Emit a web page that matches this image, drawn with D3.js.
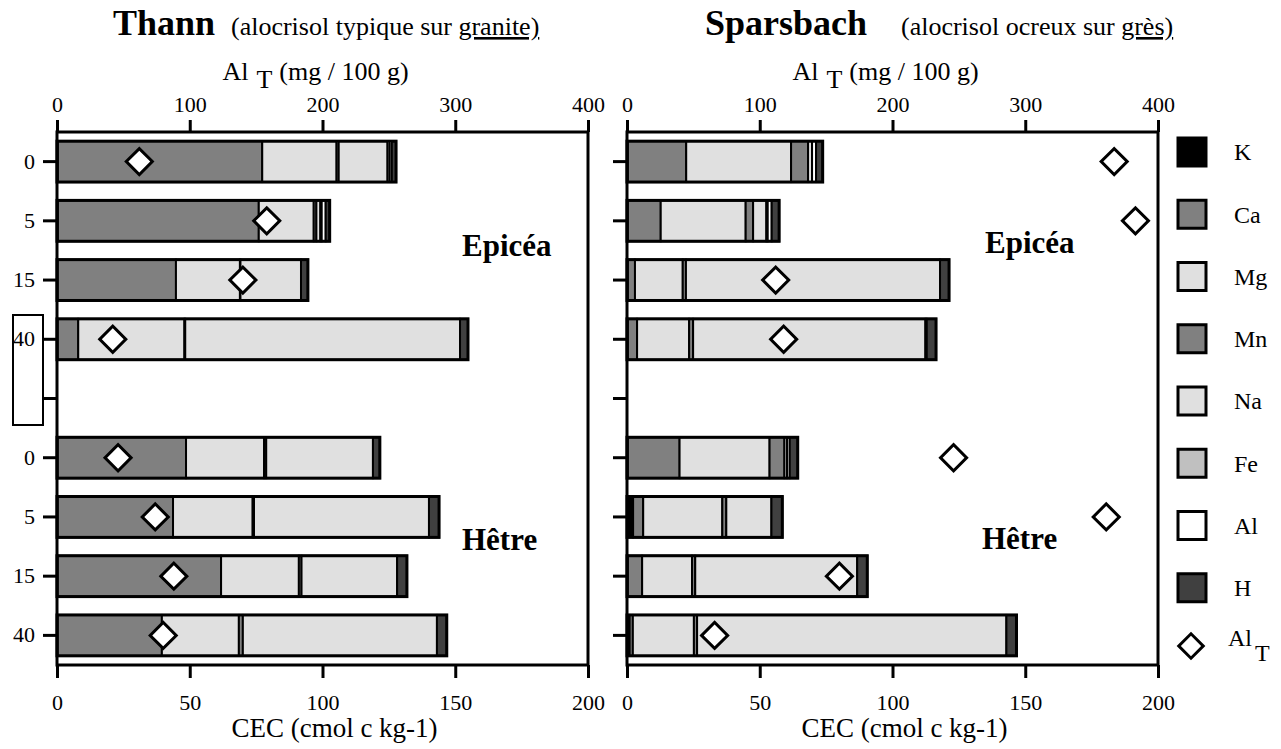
<!DOCTYPE html>
<html>
<head>
<meta charset="utf-8">
<script src="https://cdn.jsdelivr.net/npm/d3@7"></script>
<style>
  body { margin: 0; background: #fff; }
  text { font-family: "Liberation Serif", "Times New Roman", serif; fill: #000; }
</style>
</head>
<body>
<div id="chart"></div>
<script>
// rows: Epicéa 0-40 cm, an empty slot, then Hêtre 0-40 cm
var rowKeys = ["E0", "E5", "E15", "E40", "gap", "H0", "H5", "H15", "H40"];
var rowLabels = ["0", "5", "15", "40", "", "0", "5", "15", "40"];
var barRows = ["E0", "E5", "E15", "E40", "H0", "H5", "H15", "H40"];

// exchangeable cations, stacked in this order
var cations = ["K", "Ca", "Mg", "Mn", "Na", "Fe", "Al", "H"];
var cationColors = ["#000000", "#808080", "#e0e0e0", "#808080", "#e0e0e0", "#c0c0c0", "#ffffff", "#404040"];

// Thann (cmol c / kg), one value per bar row
var thannK  = [0.3, 0.3, 0.2, 0.2, 0.2, 0.2, 0.2, 0.2];
var thannCa = [77, 75.7, 44.6, 7.8, 48.4, 43.5, 61.6, 39.3];
var thannMg = [28, 20.7, 24.1, 40, 29.4, 30, 29.3, 29];
var thannMn = [0.8, 1, 0.2, 0.3, 0.8, 0.5, 1, 1.5];
var thannNa = [18.4, 1.5, 22.8, 103.5, 40.2, 65.9, 36, 73.1];
var thannFe = [0.8, 0.5, 0, 0, 0, 0, 0, 0];
var thannAl = [0.8, 1.5, 0, 0, 0, 0, 0, 0];
var thannH  = [1.6, 1.5, 2.6, 3, 2.6, 3.8, 3.7, 3.7];
var thannAlT = [62, 158, 140, 42, 46, 74, 88, 80];

// Sparsbach
var sparsK  = [0.3, 0.3, 0.3, 0.3, 0.3, 2.3, 0.3, 1];
var sparsCa = [22, 12.4, 2.7, 3.5, 19.5, 3.8, 5.4, 1.2];
var sparsMg = [39.5, 32, 18, 19.6, 33.9, 29.8, 18.8, 23];
var sparsMn = [6.4, 2.8, 1.2, 1.5, 5.6, 1.5, 1.2, 1.2];
var sparsNa = [1.5, 5, 95.7, 87.5, 1, 17, 61, 116.5];
var sparsFe = [0, 0.5, 0, 0, 0, 0, 0, 0];
var sparsAl = [1.5, 1.5, 0, 0.5, 1, 0, 0, 0];
var sparsH  = [2.5, 2.8, 3.4, 3.5, 3, 4.1, 3.8, 3.8];
var sparsAlT = [367, 383, 112, 118, 246, 361, 160, 66];

var cecTicks = [0, 50, 100, 150, 200];
var alTicks = [0, 100, 200, 300, 400];

// build row objects for d3.stack
function makeRows(cols, alT) {
    return barRows.map(function(r, i) {
        var o = { row: r, alT: alT[i] };
        cations.forEach(function(c, j) { o[c] = cols[j][i]; });
        return o;
    });
}

var sites = [
    { name: "Thann", sub: "(alocrisol typique sur ", subU: "granite)", left: 57, titleX: 113, subX: 231,
      rows: makeRows([thannK, thannCa, thannMg, thannMn, thannNa, thannFe, thannAl, thannH], thannAlT),
      showLabels: true, eX: 405, eY: 256, hX: 405, hY: 550 },
    { name: "Sparsbach", sub: "(alocrisol ocreux sur ", subU: "grès)", left: 627, titleX: 705, subX: 901,
      rows: makeRows([sparsK, sparsCa, sparsMg, sparsMn, sparsNa, sparsFe, sparsAl, sparsH], sparsAlT),
      showLabels: false, eX: 358, eY: 253, hX: 355, hY: 549 }
];

var svgWidth = 1281;
var svgHeight = 749;
var plotTop = 132;
var plotWidth = 531;
var plotHeight = 533;

var svg = d3.select("#chart")
    .append("svg")
    .attr("width", svgWidth)
    .attr("height", svgHeight);

// scales shared by both panels
var x = d3.scaleLinear().domain([0, 200]).range([0, plotWidth]);
var xAl = d3.scaleLinear().domain([0, 400]).range([0, plotWidth]);
var y = d3.scaleBand().domain(rowKeys).range([0, plotHeight])
    .paddingInner(0.31).paddingOuter(0.155);
var color = d3.scaleOrdinal().domain(cations).range(cationColors);

var stack = d3.stack().keys(cations);

// odd white box sitting over the left labels in the original
svg.append("rect")
    .attr("x", 13).attr("y", 315)
    .attr("width", 30).attr("height", 110)
    .attr("fill", "#fff")
    .attr("stroke", "#000")
    .attr("stroke-width", 2);

function styleAxis(g) {
    g.attr("font-family", "'Liberation Serif', 'Times New Roman', serif")
        .attr("font-size", 22);
    g.select(".domain").remove();
    g.selectAll(".tick line").attr("stroke", "#000").attr("stroke-width", 3);
    g.selectAll(".tick text").attr("fill", "#000");
}

sites.forEach(function(site) {
    var g = svg.append("g")
        .attr("transform", `translate(${site.left}, ${plotTop})`);

    // title
    svg.append("text")
        .attr("x", site.titleX).attr("y", 35)
        .attr("font-size", 36).attr("font-weight", "bold")
        .text(site.name);
    svg.append("text")
        .attr("x", site.subX).attr("y", 35)
        .attr("font-size", 26)
        .text(site.sub)
        .append("tspan")
        .style("text-decoration", "underline")
        .text(site.subU);

    // stacked bars
    var series = stack(site.rows);
    g.selectAll("g.layer")
        .data(series)
        .enter()
        .append("g")
        .attr("fill", d => color(d.key))
        .selectAll("rect")
        .data(d => d.filter(s => s[1] - s[0] > 0))
        .enter()
        .append("rect")
        .attr("x", d => x(d[0]))
        .attr("width", d => x(d[1]) - x(d[0]))
        .attr("y", d => y(d.data.row))
        .attr("height", y.bandwidth())
        .attr("stroke", "#000")
        .attr("stroke-width", 2);

    // outline of each bar
    g.selectAll("rect.outline")
        .data(site.rows)
        .enter()
        .append("rect")
        .attr("class", "outline")
        .attr("x", 0)
        .attr("width", d => x(d3.sum(cations, c => d[c])))
        .attr("y", d => y(d.row))
        .attr("height", y.bandwidth())
        .attr("fill", "none")
        .attr("stroke", "#000")
        .attr("stroke-width", 3);

    // Al total diamonds
    g.selectAll("path.alt")
        .data(site.rows)
        .enter()
        .append("path")
        .attr("class", "alt")
        .attr("d", d3.symbol(d3.symbolSquare, 340))
        .attr("transform", d => `translate(${xAl(d.alT)}, ${y(d.row) + y.bandwidth() / 2}) rotate(45)`)
        .attr("fill", "#fff")
        .attr("stroke", "#000")
        .attr("stroke-width", 3);

    // frame
    g.append("rect")
        .attr("width", plotWidth)
        .attr("height", plotHeight)
        .attr("fill", "none")
        .attr("stroke", "#000")
        .attr("stroke-width", 3);

    // axes
    g.append("g")
        .call(d3.axisTop(xAl).tickValues(alTicks).tickSize(12).tickPadding(8))
        .call(styleAxis);

    g.append("g")
        .attr("transform", `translate(0, ${plotHeight})`)
        .call(d3.axisBottom(x).tickValues(cecTicks).tickSize(13).tickPadding(16))
        .call(styleAxis);

    g.append("g")
        .call(d3.axisLeft(y).tickSize(14).tickPadding(8)
            .tickFormat((d, i) => site.showLabels ? rowLabels[i] : ""))
        .call(styleAxis);

    // axis titles
    var alTitle = g.append("text")
        .attr("x", plotWidth / 2 - 7)
        .attr("y", 80 - plotTop)
        .attr("text-anchor", "middle")
        .attr("font-size", 26);
    alTitle.append("tspan").text("Al");
    alTitle.append("tspan").attr("dx", 8).attr("dy", 8).text("T");
    alTitle.append("tspan").attr("dx", 7).attr("dy", -8).text("(mg / 100 g)");

    g.append("text")
        .attr("x", plotWidth / 2 + 12)
        .attr("y", 737 - plotTop)
        .attr("text-anchor", "middle")
        .attr("font-size", 27)
        .text("CEC (cmol c kg-1)");

    // stand labels
    g.append("text")
        .attr("x", site.eX).attr("y", site.eY - plotTop)
        .attr("font-size", 31).attr("font-weight", "bold")
        .text("Epicéa");
    g.append("text")
        .attr("x", site.hX).attr("y", site.hY - plotTop)
        .attr("font-size", 31).attr("font-weight", "bold")
        .text("Hêtre");
});

// legend
var legendItems = cations.concat(["AlT"]);
var ly = d3.scalePoint().domain(legendItems).range([152, 650]);

var legend = svg.append("g");
legend.selectAll("rect")
    .data(cations)
    .enter()
    .append("rect")
    .attr("x", 1178)
    .attr("y", d => ly(d) - 14)
    .attr("width", 28)
    .attr("height", 28)
    .attr("fill", d => color(d))
    .attr("stroke", "#000")
    .attr("stroke-width", 3);

legend.selectAll("text.lab")
    .data(cations)
    .enter()
    .append("text")
    .attr("class", "lab")
    .attr("x", 1234)
    .attr("y", d => ly(d))
    .attr("dy", "0.35em")
    .attr("font-size", 24)
    .text(d => d);

legend.append("path")
    .attr("d", d3.symbol(d3.symbolSquare, 300))
    .attr("transform", `translate(1191, ${ly("AlT") - 4}) rotate(45)`)
    .attr("fill", "#fff")
    .attr("stroke", "#000")
    .attr("stroke-width", 3);

var altLab = legend.append("text")
    .attr("x", 1228)
    .attr("y", ly("AlT") - 4)
    .attr("font-size", 24);
altLab.append("tspan").text("Al");
altLab.append("tspan").attr("dx", 3).attr("dy", 15).text("T");
</script>
</body>
</html>
